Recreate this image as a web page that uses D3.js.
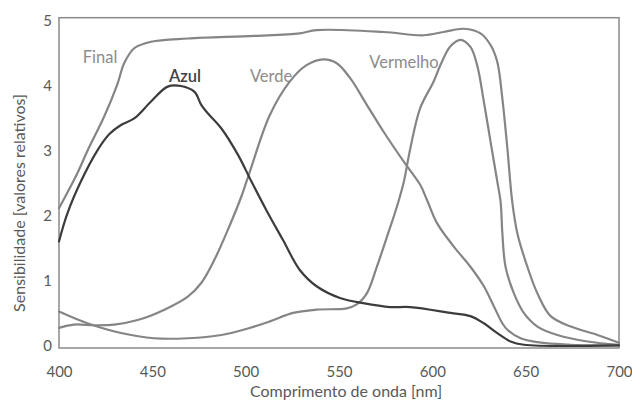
<!DOCTYPE html>
<html>
<head>
<meta charset="utf-8">
<script src="https://cdn.jsdelivr.net/npm/d3@7"></script>
<style>
  html, body { margin: 0; padding: 0; background: #fff; }
  svg { display: block; }
  text { font-family: Lato, "Open Sans", sans-serif; }
</style>
</head>
<body>
<svg id="chart" width="632" height="404"></svg>
<script>
// ---- data ----
const xTicks = [400, 450, 500, 550, 600, 650, 700];
const yTicks = [0, 1, 2, 3, 4, 5];
const xTitle = "Comprimento de onda [nm]";
const yTitle = "Sensibilidade [valores relativos]";

const finalWl  = [400, 409.7, 415.2, 424.2, 431.3, 434.9, 440.3, 449.3, 469, 504.8, 529, 538, 573.8, 595.3, 606, 617, 625.8, 631.2, 634.8, 637.5, 640.2, 642.8, 645.5, 650.9, 656.3, 663.4, 674.2, 688.5, 700];
const finalVal = [2.11, 2.64, 2.99, 3.52, 4.02, 4.34, 4.57, 4.67, 4.72, 4.76, 4.80, 4.85, 4.82, 4.77, 4.82, 4.87, 4.80, 4.62, 4.36, 3.80, 3.03, 2.21, 1.73, 1.21, 0.80, 0.45, 0.29, 0.16, 0.04];

const azulWl  = [400, 404.5, 411.7, 420.6, 427, 433.2, 440.3, 449.3, 458.2, 465.4, 472.6, 476.2, 479.7, 486.9, 495.9, 503.1, 511.1, 520, 529, 538, 550.5, 563, 577.4, 588.2, 609.7, 620.4, 627.6, 634.8, 641.9, 649, 700];
const azulVal = [1.60, 2.03, 2.52, 3.00, 3.25, 3.39, 3.49, 3.75, 3.98, 3.99, 3.90, 3.70, 3.57, 3.34, 2.93, 2.52, 2.08, 1.62, 1.16, 0.91, 0.73, 0.65, 0.59, 0.59, 0.50, 0.45, 0.34, 0.19, 0.06, 0.01, 0.0];

const verdeWl  = [400, 408, 418.8, 429.6, 442.1, 456.5, 469, 476.2, 483.3, 490.5, 497.7, 502.2, 512.9, 523.7, 532.6, 541.6, 548.8, 556, 564.9, 573.8, 584.6, 593.5, 597.1, 602.5, 611.5, 620.4, 627.6, 633, 637.5, 640.2, 647.3, 656.3, 674.2, 700];
const verdeVal = [0.27, 0.32, 0.31, 0.32, 0.39, 0.55, 0.75, 0.96, 1.32, 1.78, 2.29, 2.67, 3.54, 4.06, 4.31, 4.40, 4.34, 4.11, 3.70, 3.29, 2.83, 2.47, 2.24, 1.88, 1.52, 1.21, 0.91, 0.60, 0.34, 0.24, 0.11, 0.05, 0.01, 0.0];

const vermelhoWl  = [400, 415.2, 433.2, 451, 469, 487, 501.2, 513, 525.4, 538, 554.1, 559.5, 564.9, 570.3, 575.7, 581.1, 584.6, 588.2, 593.5, 600.7, 604.3, 609.7, 615.1, 620.4, 624, 627.6, 631.2, 634.8, 636.6, 637.5, 639.2, 643.7, 649, 656.3, 667, 683.2, 700];
const vermelhoVal = [0.52, 0.34, 0.19, 0.11, 0.11, 0.16, 0.26, 0.37, 0.50, 0.55, 0.57, 0.63, 0.80, 1.21, 1.67, 2.14, 2.50, 3.03, 3.65, 4.06, 4.31, 4.60, 4.70, 4.59, 4.31, 3.75, 3.13, 2.52, 2.20, 1.73, 1.21, 0.80, 0.50, 0.29, 0.16, 0.06, 0.01];

const seriesNames = ["Final", "Verde", "Vermelho", "Azul"];
const seriesWl  = [finalWl, verdeWl, vermelhoWl, azulWl];
const seriesVal = [finalVal, verdeVal, vermelhoVal, azulVal];
// label anchors (data units)
const labelWl  = [422, 513.6, 584.8, 467.5];
const labelVal = [4.34, 4.05, 4.26, 4.05];

// ---- drawing ----
const svg = d3.select("#chart");
const x = d3.scaleLinear().domain([400, 700]).range([59, 619]);
const y = d3.scaleLinear().domain([-0.04, 5.04]).range([348, 17.7]);

const textGray = "#595959";
const lineGray = "#858585";
const dark = "#3c3c3c";
const styles = {
  Final:    { color: lineGray, width: 2.2, label: "#8c8c8c" },
  Verde:    { color: lineGray, width: 2.2, label: "#8c8c8c" },
  Vermelho: { color: lineGray, width: 2.2, label: "#8c8c8c" },
  Azul:     { color: dark,     width: 2.2, label: "#404040" }
};

// frame
svg.append("rect")
  .attr("x", x.range()[0]).attr("y", y.range()[1])
  .attr("width", x.range()[1] - x.range()[0])
  .attr("height", y.range()[0] - y.range()[1])
  .attr("fill", "none").attr("stroke", "#8a8a8a").attr("stroke-width", 1.5);

// axes
const gx = svg.append("g").attr("transform", `translate(0,${y.range()[0]})`)
  .call(d3.axisBottom(x).tickValues(xTicks).tickSize(0).tickPadding(18).tickFormat(d3.format("d")));
const gy = svg.append("g").attr("transform", `translate(${x.range()[0]},0)`)
  .call(d3.axisLeft(y).tickValues(yTicks).tickSize(0).tickPadding(7).tickFormat(d3.format("d")));
[gx, gy].forEach(g => {
  g.select(".domain").remove();
  g.selectAll("text").attr("fill", textGray).style("font-size", "15px")
    .style("font-family", "Lato, 'Open Sans', sans-serif");
});

// axis titles
svg.append("text").attr("x", 346).attr("y", 397).attr("text-anchor", "middle")
  .attr("fill", textGray).style("font-size", "16px").text(xTitle);
svg.append("text").attr("transform", "translate(25,203) rotate(-90)").attr("text-anchor", "middle")
  .attr("fill", textGray).style("font-size", "16px").text(yTitle);

// lines
const line = d3.line().x(d => x(d[0])).y(d => y(d[1])).curve(d3.curveCatmullRom.alpha(0.5));
seriesNames.forEach((name, i) => {
  const pts = seriesWl[i].map((w, j) => [w, seriesVal[i][j]]);
  svg.append("path").datum(pts)
    .attr("d", line).attr("fill", "none")
    .attr("stroke", styles[name].color).attr("stroke-width", styles[name].width)
    .attr("stroke-linejoin", "round").attr("stroke-linecap", "round");
});

// series labels
seriesNames.forEach((name, i) => {
  svg.append("text").attr("x", x(labelWl[i])).attr("y", y(labelVal[i]))
    .attr("text-anchor", "middle").attr("fill", styles[name].label)
    .style("font-size", "16.5px").style("font-weight", name === "Azul" ? "600" : "400")
    .text(name);
});
</script>
</body>
</html>
